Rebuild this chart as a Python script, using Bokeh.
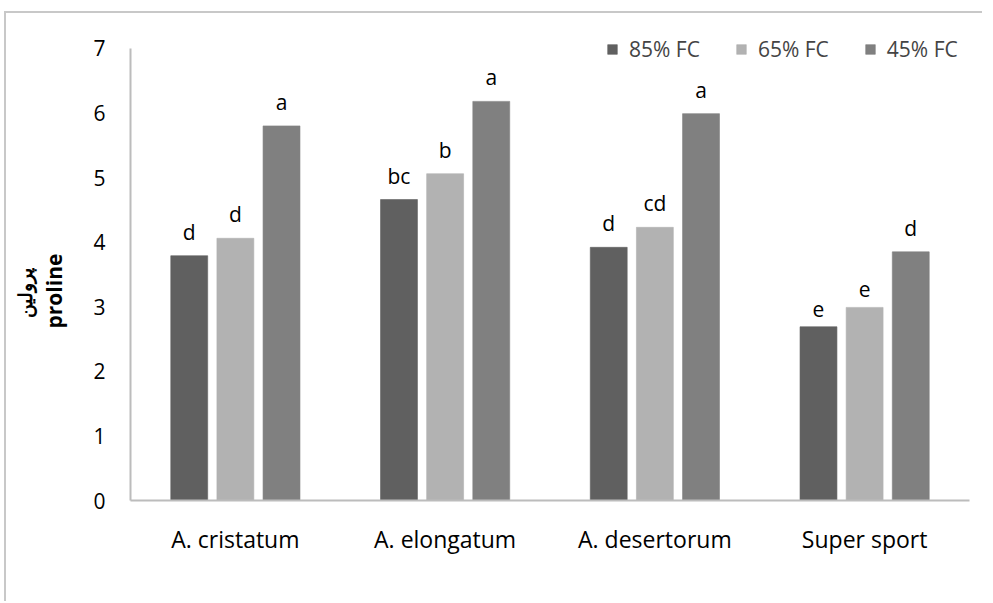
from bokeh.plotting import figure
from bokeh.models import ColumnDataSource, FactorRange, Range1d, Legend, LegendItem, FixedTicker, Title
from bokeh.transform import dodge
from bokeh.core.properties import value
from bokeh.embed import file_html
from bokeh.resources import INLINE

categories = ["A. cristatum", "A. elongatum", "A. desertorum", "Super sport"]
series_names = ["85% FC", "65% FC", "45% FC"]
fc85 = [3.79, 4.66, 3.92, 2.69]
fc65 = [4.06, 5.06, 4.23, 2.99]
fc45 = [5.80, 6.18, 5.99, 3.85]
let85 = ["d", "bc", "d", "e"]
let65 = ["d", "b", "cd", "e"]
let45 = ["a", "a", "a", "d"]
y_ticks = [0, 1, 2, 3, 4, 5, 6, 7]

colors = ["#606060", "#b2b2b2", "#808080"]
offsets = [-0.22, 0.0, 0.22]
FONT = "Open Sans"

p = figure(width=978, height=590, x_range=FactorRange(*categories, range_padding=0),
           y_range=Range1d(0, 7.2), output_backend="svg", toolbar_location=None,
           min_border_left=124, min_border_right=15, min_border_top=22, min_border_bottom=103,
           styles={"border-top": "2px solid #c8c8c8", "border-left": "2px solid #c8c8c8",
                   "margin-left": "4px", "margin-top": "11px"})
p.outline_line_color = None
p.xgrid.grid_line_color = None
p.ygrid.grid_line_color = None

src = ColumnDataSource(dict(cat=categories, fc85=fc85, fc65=fc65, fc45=fc45,
                            l85=let85, l65=let65, l45=let45))

items = []
for name, col, lab, c, off in zip(series_names, ["fc85", "fc65", "fc45"], ["l85", "l65", "l45"], colors, offsets):
    r = p.vbar(x=dodge("cat", off, range=p.x_range), top=col, width=0.176, source=src,
               fill_color=c, line_color=c, line_alpha=0.6)
    p.text(x=dodge("cat", off, range=p.x_range), y=col, text=lab, source=src,
           text_align="center", text_baseline="bottom", y_offset=-10,
           text_font=value(FONT), text_font_size="21px", text_color="#000000")
    items.append(LegendItem(label=name, renderers=[r]))

legend = Legend(items=items, orientation="horizontal", location=(476, 437),
                glyph_width=12, glyph_height=12, label_standoff=11, spacing=35,
                label_text_font=FONT, label_text_font_size="21px",
                background_fill_alpha=0, border_line_color=None, padding=0, margin=0)
p.add_layout(legend)

for ax in (p.xaxis, p.yaxis):
    ax.axis_line_color = "#bcbcbc"
    ax.axis_line_width = 2
    ax.major_tick_line_color = None
    ax.minor_tick_line_color = None
    ax.major_tick_out = 0
    ax.major_tick_in = 0
    ax.major_label_text_font = FONT
    ax.major_label_text_color = "#000000"

p.yaxis.major_label_text_font_size = "21px"
p.xaxis.major_label_text_font_size = "23px"
p.yaxis.bounds = (0, 7)
p.yaxis.ticker = FixedTicker(ticks=y_ticks)
p.yaxis.major_label_standoff = 25
p.xaxis.major_label_standoff = 22
# spacer between tick labels and the two-line axis title
p.yaxis.axis_label = " "
p.yaxis.axis_label_text_font_size = "1px"
p.yaxis.axis_label_standoff = 19

t_en = Title(text="proline", align="left", offset=172, standoff=0,
             text_font=FONT, text_font_style="bold", text_font_size="21px", text_color="#000000")
t_fa = Title(text="پرولین", align="left", offset=183, standoff=0,
             text_font=FONT, text_font_style="bold", text_font_size="19px", text_color="#000000")
p.add_layout(t_en, "left")
p.add_layout(t_fa, "left")

open("out.html", "w").write(file_html(p, INLINE))
